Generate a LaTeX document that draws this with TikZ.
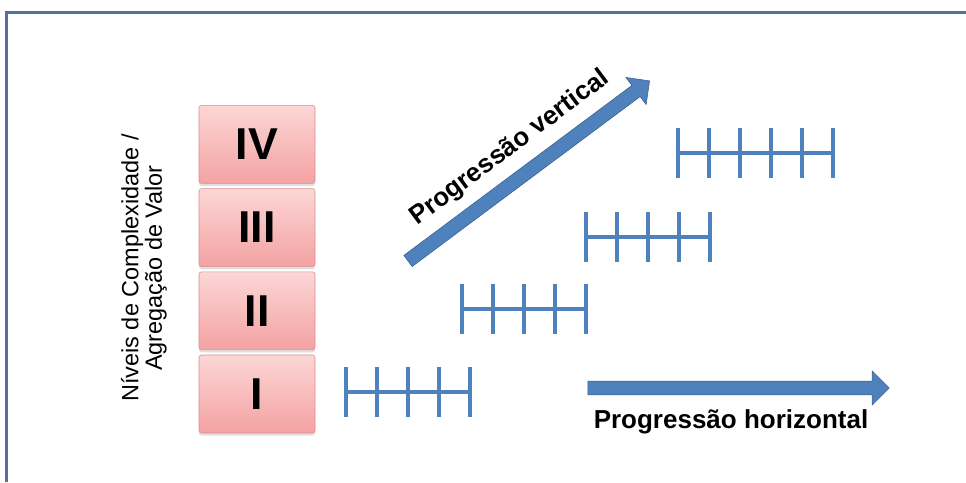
\documentclass[tikz,border=0pt]{standalone}
\usepackage{fontspec}
\setmainfont{Liberation Sans}
\usetikzlibrary{shapes,arrows,positioning,shadows,calc}

\definecolor{frameblue}{HTML}{52729B}
\definecolor{arrowblue}{HTML}{4F81BD}
\definecolor{arrowedge}{HTML}{385D8A}
\definecolor{boxtop}{HTML}{FCD6D6}
\definecolor{boxbottom}{HTML}{F4A2A2}
\definecolor{boxedge}{HTML}{D88E8E}

\begin{document}
\begin{tikzpicture}[
    x=0.75pt, y=-0.75pt,
    node distance=3.5pt,
    level/.style={rectangle, draw=boxedge, top color=boxtop, bottom color=boxbottom, rounded corners=2pt, minimum width=87pt, minimum height=58.5pt, font=\fontsize{33.5}{36}\selectfont\bfseries, drop shadow={shadow xshift=0pt, shadow yshift=-2pt, opacity=0.25}},
    bigarrow/.style={single arrow, draw=arrowedge, fill=arrowblue, minimum height=226pt, single arrow head extend=7.5pt, single arrow tip angle=90, inner xsep=0pt, inner ysep=5pt},
    ruler/.style={arrowblue, line width=2.3pt},
    arrowtext/.style={font=\fontsize{19.5}{21}\selectfont\bfseries},
    frame/.style={frameblue, line width=2.25pt}
]
\useasboundingbox (0,0) rectangle (966,482);

% Frame
\draw[frame] (966,12) -- (6,12) -- (6,482);

% Levels
\node[level] (lv1) at (257,394) {I};
\node[level, above=of lv1] (lv2) {II};
\node[level, above=of lv2] (lv3) {III};
\node[level, above=of lv3] (lv4) {IV};

% Axis label
\node[rotate=90, align=center, font=\fontsize{17.6}{17.5}\selectfont] (axis) at (144,268) {Níveis de Complexidade /\\Agregação de Valor};

% Rulers
\foreach \x/\y/\n in {346/392/4, 462/309/4, 586/237/4, 678/153/5} {
  \draw[ruler] (\x,\y) -- ++(31*\n,0);
  \foreach \k in {0,...,\n}
    \draw[ruler] (\x+31*\k,\y-25) -- ++(0,50);
}

% Arrows
\node[bigarrow] (harr) at (735,388) {};
\node[bigarrow, rotate=36.7] (varr) at (526,173) {};

% Labels
\node[arrowtext, anchor=base] (htext) at (731,428) {Progressão horizontal};
\node[arrowtext, rotate=36.7] (vtext) at (510,148) {Progressão vertical};

\end{tikzpicture}
\end{document}
